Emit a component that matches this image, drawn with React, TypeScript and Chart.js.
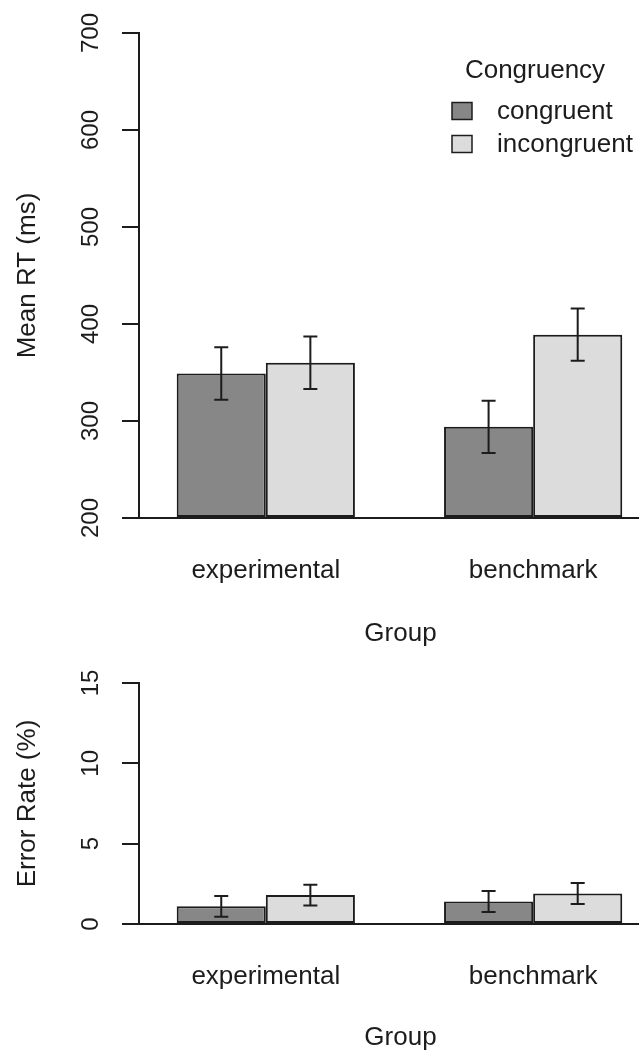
import React, { useEffect, useRef } from 'react';
import { Chart, registerables } from 'chart.js';

Chart.register(...registerables);

const FONT = "'Liberation Sans', Arial, Helvetica, sans-serif";
const INK = '#1c1c1c';
Chart.defaults.font.family = FONT;
Chart.defaults.color = INK;

// ---- data ----
const groups = ['experimental', 'benchmark'];
const seriesNames = ['congruent', 'incongruent'];
const seriesColors = ['#878787', '#dcdcdc'];
const legendTitle = 'Congruency';
const xTitle = 'Group';

const rtCongruent = [349, 294];
const rtIncongruent = [360, 389];
const rtSeCongruent = [27, 27];
const rtSeIncongruent = [27, 27];

const erCongruent = [1.1, 1.4];
const erIncongruent = [1.8, 1.9];
const erSeCongruent = [0.65, 0.65];
const erSeIncongruent = [0.65, 0.65];

// x axis in "bar units": each group takes 2 bars, with a 1-bar gap before it
const groupCenter = (i: number) => 2 + 3 * i;
const X_MIN = 0.577;
const X_MAX = 6.446;

type Spec = {
  yMin: number;
  yMax: number;
  yStep: number;
  yTitle: string;
  values: number[][];
  errors: number[][];
  canvasHeight: number;
  padTop: number;
  xAxisHeight: number;
  tickPad: number;
  titlePadBottom: number;
  legend: boolean;
};

function errorBarPlugin(errors: number[][]) {
  return {
    id: 'errorBars',
    afterDatasetsDraw(chart: any) {
      const ctx = chart.ctx;
      const yScale = chart.scales.y;
      ctx.save();
      ctx.strokeStyle = INK;
      ctx.lineWidth = 2;
      chart.data.datasets.forEach((ds: any, di: number) => {
        const meta = chart.getDatasetMeta(di);
        meta.data.forEach((el: any, i: number) => {
          const v = ds.data[i].y;
          const e = errors[di][i];
          const x = el.x;
          const yt = yScale.getPixelForValue(v + e);
          const yb = yScale.getPixelForValue(v - e);
          ctx.beginPath();
          ctx.moveTo(x, yt);
          ctx.lineTo(x, yb);
          ctx.moveTo(x - 7, yt);
          ctx.lineTo(x + 7, yt);
          ctx.moveTo(x - 7, yb);
          ctx.lineTo(x + 7, yb);
          ctx.stroke();
        });
      });
      ctx.restore();
    },
  };
}

const legendPlugin = {
  id: 'rLegend',
  afterDraw(chart: any) {
    const ctx = chart.ctx;
    const top = chart.chartArea.top;
    ctx.save();
    ctx.font = `26px ${FONT}`;
    ctx.textBaseline = 'middle';
    ctx.textAlign = 'center';
    ctx.fillStyle = INK;
    ctx.fillText(legendTitle, 535, top + 38);
    chart.data.datasets.forEach((ds: any, i: number) => {
      const cy = top + 78 + i * 33;
      ctx.fillStyle = ds.backgroundColor;
      ctx.fillRect(452, cy - 8.5, 20, 17);
      ctx.strokeStyle = INK;
      ctx.lineWidth = 1.5;
      ctx.strokeRect(452, cy - 8.5, 20, 17);
      ctx.fillStyle = INK;
      ctx.textAlign = 'left';
      ctx.fillText(ds.label, 497, cy + 1);
    });
    ctx.restore();
  },
};

function Panel({ spec, top }: { spec: Spec; top: number }) {
  const ref = useRef<HTMLCanvasElement>(null);
  useEffect(() => {
    const canvas = ref.current!;
    const plugins: any[] = [errorBarPlugin(spec.errors)];
    if (spec.legend) plugins.push(legendPlugin);
    const chart = new Chart(canvas, {
      type: 'bar',
      data: {
        datasets: seriesNames.map((name, si) => ({
          label: name,
          data: groups.map((_, gi) => ({ x: groupCenter(gi), y: spec.values[si][gi] })),
          backgroundColor: seriesColors[si],
          borderColor: INK,
          borderWidth: 2,
          borderSkipped: false,
          base: spec.yMin,
          categoryPercentage: 2 / 3,
          barPercentage: 1,
        })),
      } as any,
      options: {
        responsive: false,
        animation: false,
        devicePixelRatio: 1,
        layout: { padding: { top: spec.padTop, left: 0, right: 0, bottom: 0 } },
        plugins: { legend: { display: false }, tooltip: { enabled: false } },
        scales: {
          x: {
            type: 'linear',
            offset: false,
            min: X_MIN,
            max: X_MAX,
            bounds: 'data',
            afterBuildTicks: (s: any) => {
              s.ticks = groups.map((_, i) => ({ value: groupCenter(i) }));
            },
            ticks: {
              callback: (_v: any, i: number) => groups[i],
              font: { size: 26 },
              color: INK,
              padding: 37,
              autoSkip: false,
              maxRotation: 0,
              minRotation: 0,
            },
            grid: { display: false, drawTicks: false, offset: false },
            border: { display: false },
            title: {
              display: true,
              text: xTitle,
              font: { size: 26 },
              color: INK,
              padding: { top: 0, bottom: spec.titlePadBottom },
            },
            afterFit: (s: any) => {
              s.height = spec.xAxisHeight;
              s.paddingLeft = 0;
              s.paddingRight = 0;
            },
          },
          y: {
            type: 'linear',
            min: spec.yMin,
            max: spec.yMax,
            ticks: {
              stepSize: spec.yStep,
              minRotation: 90,
              maxRotation: 90,
              crossAlign: 'center',
              padding: spec.tickPad,
              autoSkip: false,
              font: { size: 24 },
              color: INK,
            },
            grid: {
              drawOnChartArea: true,
              color: (c: any) => (c.tick && c.tick.value === spec.yMin ? INK : 'rgba(0,0,0,0)'),
              lineWidth: 2,
              drawTicks: true,
              tickLength: 17,
              tickColor: INK,
              tickWidth: 2,
            },
            border: { display: true, color: INK, width: 2 },
            title: {
              display: true,
              text: spec.yTitle,
              font: { size: 26 },
              color: INK,
              padding: { top: 12, bottom: 0 },
            },
            afterFit: (s: any) => {
              s.width = 139;
              s.paddingTop = 0;
              s.paddingBottom = 0;
            },
          },
        },
      } as any,
      plugins,
    });
    return () => chart.destroy();
  }, []);
  return (
    <canvas
      ref={ref}
      width={662}
      height={spec.canvasHeight}
      style={{ position: 'absolute', left: 0, top, width: 662, height: spec.canvasHeight }}
    />
  );
}

const topSpec: Spec = {
  yMin: 200,
  yMax: 700,
  yStep: 100,
  yTitle: 'Mean RT (ms)',
  values: [rtCongruent, rtIncongruent],
  errors: [rtSeCongruent, rtSeIncongruent],
  canvasHeight: 660,
  padTop: 33,
  xAxisHeight: 142,
  tickPad: 10.5,
  titlePadBottom: 11,
  legend: true,
};

const bottomSpec: Spec = {
  yMin: 0,
  yMax: 15,
  yStep: 5,
  yTitle: 'Error Rate (%)',
  values: [erCongruent, erIncongruent],
  errors: [erSeCongruent, erSeIncongruent],
  canvasHeight: 395,
  padTop: 23,
  xAxisHeight: 131,
  tickPad: 17,
  titlePadBottom: 2,
  legend: false,
};

export default function App() {
  return (
    <div
      style={{
        position: 'absolute',
        left: 0,
        top: 0,
        width: 639,
        height: 1051,
        overflow: 'hidden',
        background: '#fff',
      }}
    >
      <Panel spec={topSpec} top={0} />
      <Panel spec={bottomSpec} top={660} />
    </div>
  );
}
